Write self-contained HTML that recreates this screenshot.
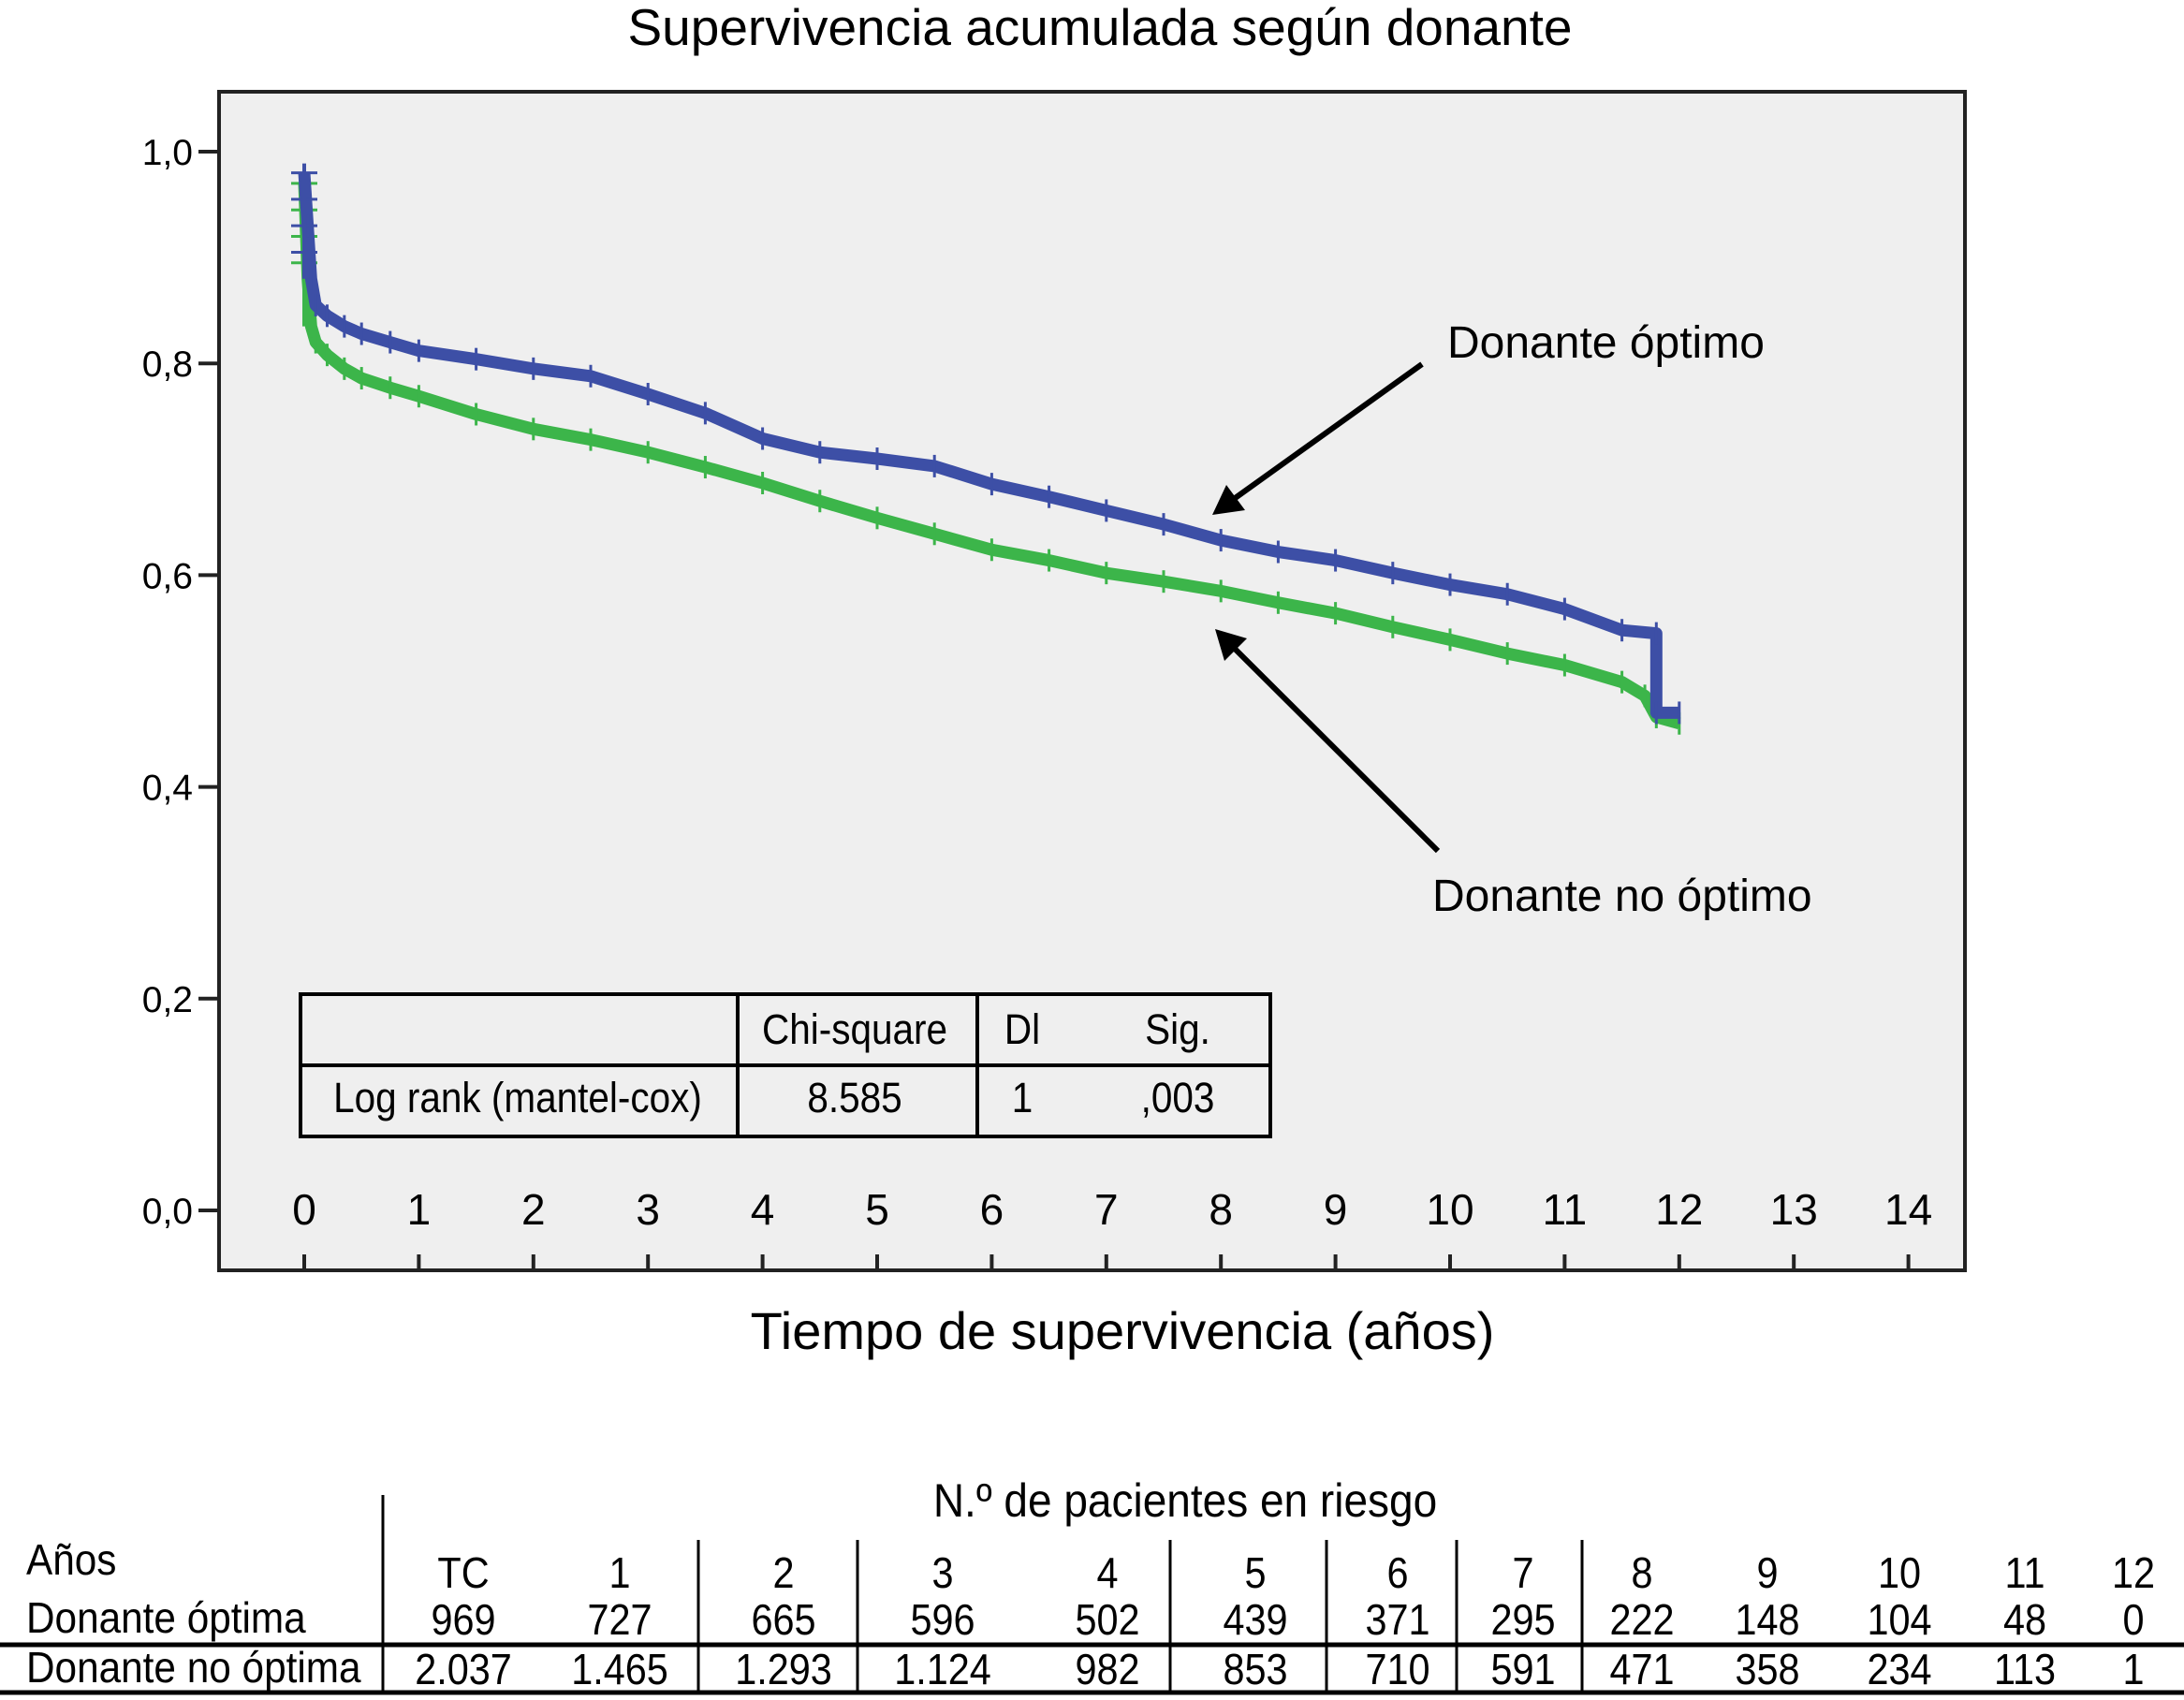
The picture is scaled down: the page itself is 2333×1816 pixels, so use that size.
<!DOCTYPE html>
<html><head><meta charset="utf-8"><style>
html,body{margin:0;padding:0;background:#fff;}
svg{display:block;font-family:"Liberation Sans",sans-serif;}
</style></head><body>
<svg id="chart" width="2333" height="1816" viewBox="0 0 2333 1816" xmlns="http://www.w3.org/2000/svg">
<text x="1175" y="48" font-size="55" text-anchor="middle" fill="#000">Supervivencia acumulada según donante</text>
<rect x="234" y="98" width="1865" height="1259" fill="#efefef" stroke="#222" stroke-width="4"/>
<g id="yaxis"></g>
<g id="xaxis"></g>
<g id="series"></g>
<text x="1199" y="1441" font-size="56" text-anchor="middle" fill="#000">Tiempo de supervivencia (años)</text>
<text x="1546" y="382" font-size="48" fill="#000">Donante óptimo</text>
<text x="1530" y="973" font-size="48" fill="#000">Donante no óptimo</text>
<g stroke="#000" stroke-width="6" fill="#000">
<line x1="1519" y1="389" x2="1318" y2="533"/>
<polygon points="1295,550 1310,518 1330,545" stroke="none"/>
</g>
<g stroke="#000" stroke-width="6" fill="#000">
<line x1="1536" y1="909" x2="1318" y2="692"/>
<polygon points="1298,672 1332,682 1308,706" stroke="none"/>
</g>
<g fill="none" stroke="#000" stroke-width="4">
<rect x="321" y="1062" width="1036" height="152"/>
<line x1="321" y1="1138" x2="1357" y2="1138"/>
<line x1="788" y1="1062" x2="788" y2="1214"/>
<line x1="1044" y1="1062" x2="1044" y2="1214"/>
</g>
<g id="stats"></g>
<g stroke="#000">
<line x1="409" y1="1597" x2="409" y2="1808" stroke-width="3"/>
<line x1="0" y1="1757" x2="2333" y2="1757" stroke-width="5"/>
<line x1="0" y1="1808" x2="2333" y2="1808" stroke-width="5"/>
</g>
<g id="risk"></g>
</svg>
<script>
const timesOpt = [0,0.03,0.06,0.1,0.2,0.35,0.5,0.75,1,1.5,2,2.5,3,3.5,4,4.5,5,5.5,6,6.5,7,7.5,8,8.5,9,9.5,10,10.5,11,11.5,11.8,11.8,12];
const survOpt  = [0.98,0.93,0.88,0.855,0.845,0.835,0.828,0.82,0.812,0.804,0.795,0.788,0.771,0.753,0.729,0.716,0.710,0.703,0.686,0.674,0.661,0.648,0.633,0.622,0.614,0.602,0.591,0.582,0.568,0.548,0.545,0.47,0.47];
const timesNo  = [0,0.03,0.06,0.1,0.2,0.35,0.5,0.75,1,1.5,2,2.5,3,3.5,4,4.5,5,5.5,6,6.5,7,7.5,8,8.5,9,9.5,10,10.5,11,11.5,11.7,11.8,12];
const survNo   = [0.97,0.88,0.835,0.82,0.808,0.795,0.786,0.777,0.769,0.752,0.738,0.728,0.716,0.702,0.687,0.670,0.654,0.639,0.624,0.614,0.602,0.594,0.585,0.574,0.564,0.551,0.539,0.526,0.515,0.499,0.486,0.466,0.46];
const yTicks = [0,0.2,0.4,0.6,0.8,1.0];
const yTickLabels = ["0,0","0,2","0,4","0,6","0,8","1,0"];
const xTicks = [0,1,2,3,4,5,6,7,8,9,10,11,12,13,14];
const riskCols = ["TC","1","2","3","4","5","6","7","8","9","10","11","12"];
const riskOpt = ["969","727","665","596","502","439","371","295","222","148","104","48","0"];
const riskNo = ["2.037","1.465","1.293","1.124","982","853","710","591","471","358","234","113","1"];
const statHeaders = ["Chi-square","Dl","Sig."];
const statValues = ["Log rank (mantel-cox)","8.585","1",",003"];

const NS="http://www.w3.org/2000/svg";
const X = t => 325 + t*122.4;
const Y = v => 1293 - v*1131;
function mk(tag, parent, attrs){const e=document.createElementNS(NS,tag);for(const k in attrs)e.setAttribute(k,attrs[k]);parent.appendChild(e);return e;}
function ctext(parent,x,y,str,size,sx,anchor){
  const t=mk('text',parent,{transform:`translate(${x},${y}) scale(${sx},1)`,'font-size':size,'text-anchor':anchor||'middle',fill:'#000'});
  t.textContent=str;return t;
}
const ya=document.getElementById('yaxis');
yTicks.forEach((v,i)=>{
  const l=mk('line',ya,{x1:212,x2:234,y1:Y(v),y2:Y(v),stroke:'#222','stroke-width':4});
  
  
  const t=mk('text',ya,{x:206,y:Y(v)+14,'font-size':39,'text-anchor':'end',fill:'#000'});
  t.textContent=yTickLabels[i];
  
  
});
const xa=document.getElementById('xaxis');
xTicks.forEach(t=>{
  const l=mk('line',xa,{x1:X(t),x2:X(t),y1:1340,y2:1357,stroke:'#222','stroke-width':4});
  
  
  const tx=mk('text',xa,{x:X(t),y:1308,'font-size':46,'text-anchor':'middle',fill:'#000'});
  tx.textContent=String(t);
  
  
});
const sg=document.getElementById('series');
function drawSeries(times,surv,color,name){
  const g=mk('g',sg,{});
  
  
  let d='';
  times.forEach((t,i)=>{d+=(i?'L':'M')+X(t)+','+Y(surv[i])+' ';});
  mk('path',g,{d:d,fill:'none',stroke:color,'stroke-width':13,'stroke-linejoin':'round'});
  times.forEach((t,i)=>{
    if(i===0) return;
    const pt=mk('line',g,{x1:X(t),x2:X(t),y1:Y(surv[i])-12,y2:Y(surv[i])+12,stroke:color,'stroke-width':3});
    
    
  });
  for(let k=0;k<4;k++){
    const v=surv[0]-k*0.025;
    const c=mk('line',g,{x1:X(0)-14,x2:X(0)+14,y1:Y(v),y2:Y(v),stroke:color,'stroke-width':3});
    
    
  }
  mk('line',g,{x1:X(0),x2:X(0),y1:Y(surv[0])-10,y2:Y(surv[2]),stroke:color,'stroke-width':4});
}
drawSeries(timesNo,survNo,'#3cb54a','series-donante-no-optimo');
drawSeries(timesOpt,survOpt,'#3d4fa6','series-donante-optimo');

const st=document.getElementById('stats');
const hx=[913,1092,1258];
statHeaders.forEach((h,i)=>{const t=ctext(st,hx[i],1115,h,45,0.9);
  
  });
const vx=[553,913,1092,1258];
statValues.forEach((h,i)=>{const t=ctext(st,vx[i],1188,h,45,0.9);
  
  });

const rk=document.getElementById('risk');
const colX=[495,662,837,1007,1183,1341,1493,1627,1754,1888,2029,2163,2279];
let h=ctext(rk,1266,1620,'N.º de pacientes en riesgo',50,0.92);


[['Años',1682],['Donante óptima',1744],['Donante no óptima',1797]].forEach(r=>{
  const t=ctext(rk,28,r[1],r[0],46,0.92,'start');
  
  
});
riskCols.forEach((c,i)=>{
  const a=ctext(rk,colX[i],1696,c,46,0.9);
  
  
  const b=ctext(rk,colX[i],1746,riskOpt[i],46,0.9);
  
  
  const d=ctext(rk,colX[i],1799,riskNo[i],46,0.9);
  
  
});
[746,916,1250,1417,1556,1690].forEach(x=>{
  const l=mk('line',rk,{x1:x,x2:x,y1:1645,y2:1808,stroke:'#000','stroke-width':3});
  
  
});
</script>
</body></html>
